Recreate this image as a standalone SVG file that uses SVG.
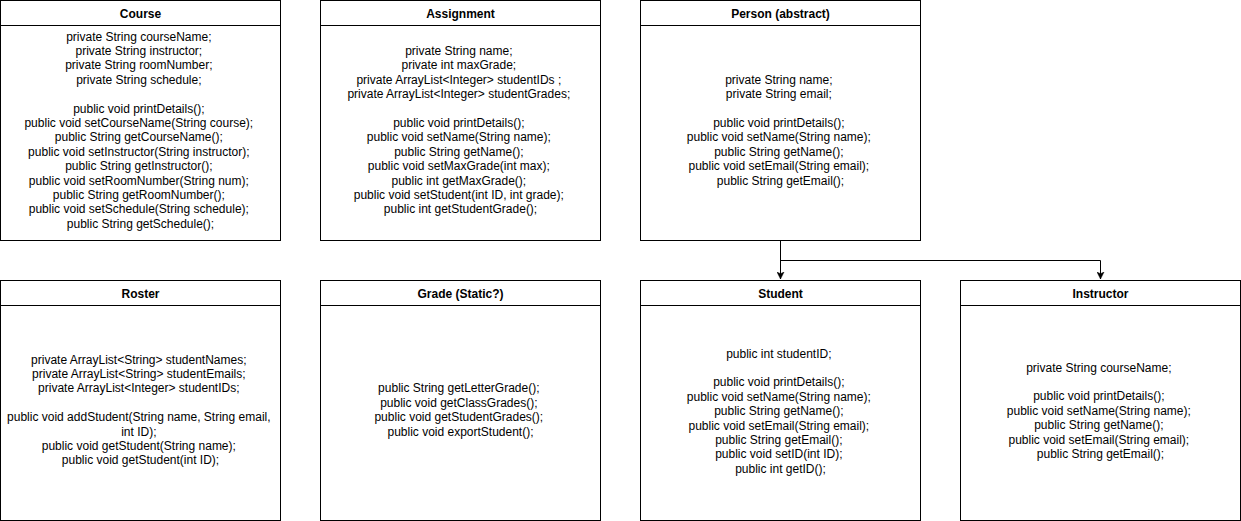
<svg xmlns="http://www.w3.org/2000/svg" width="1241" height="521" viewBox="0 0 1241 521">
<defs>
<style>
.box{fill:#fff;stroke:#000;stroke-width:1}
.sep{stroke:#000;stroke-width:1}
.t{font-family:"Liberation Sans",Arial,sans-serif;font-size:12px;fill:#000;text-anchor:middle}
.h{font-weight:bold}
.edge{fill:none;stroke:#000;stroke-width:1}
</style>
<marker id="arr" markerWidth="8" markerHeight="8" refX="7" refY="4" orient="auto" markerUnits="userSpaceOnUse">
<path d="M0,0.5 L7,4 L0,7.5 L1.75,4 Z" fill="#000" stroke="#000" stroke-width="0.5"/>
</marker>
</defs>
<rect width="1241" height="521" fill="#fff"/>

<g id="connectors">
<path class="edge" d="M780.5 240.5 V279" marker-end="url(#arr)"/>
<path class="edge" d="M780.5 240.5 V260.5 H1100.5 V279" marker-end="url(#arr)"/>
</g>

<g id="course">
<rect class="box" x="0.5" y="0.5" width="280" height="240"/>
<line class="sep" x1="0.5" y1="25.5" x2="280.5" y2="25.5"/>
<text class="t h" x="140.5" y="17.5">Course</text>
<text class="t">
<tspan x="140.5" y="40.5">private String courseName;</tspan>
<tspan x="140.5" y="54.9">private String instructor;</tspan>
<tspan x="140.5" y="69.3">private String roomNumber;</tspan>
<tspan x="140.5" y="83.7">private String schedule;</tspan>
<tspan x="140.5" y="112.5">public void printDetails();</tspan>
<tspan x="140.5" y="126.9">public void setCourseName(String course);</tspan>
<tspan x="140.5" y="141.3">public String getCourseName();</tspan>
<tspan x="140.5" y="155.7">public void setInstructor(String instructor);</tspan>
<tspan x="140.5" y="170.1">public String getInstructor();</tspan>
<tspan x="140.5" y="184.5">public void setRoomNumber(String num);</tspan>
<tspan x="140.5" y="198.9">public String getRoomNumber();</tspan>
<tspan x="140.5" y="213.3">public void setSchedule(String schedule);</tspan>
<tspan x="140.5" y="227.7">public String getSchedule();</tspan>
</text>
</g>

<g id="assignment">
<rect class="box" x="320.5" y="0.5" width="280" height="240"/>
<line class="sep" x1="320.5" y1="25.5" x2="600.5" y2="25.5"/>
<text class="t h" x="460.5" y="17.5">Assignment</text>
<text class="t">
<tspan x="460.5" y="54.9">private String name;</tspan>
<tspan x="460.5" y="69.3">private int maxGrade;</tspan>
<tspan x="460.5" y="83.7">private ArrayList&lt;Integer&gt; studentIDs ;</tspan>
<tspan x="460.5" y="98.1">private ArrayList&lt;Integer&gt; studentGrades;</tspan>
<tspan x="460.5" y="126.9">public void printDetails();</tspan>
<tspan x="460.5" y="141.3">public void setName(String name);</tspan>
<tspan x="460.5" y="155.7">public String getName();</tspan>
<tspan x="460.5" y="170.1">public void setMaxGrade(int max);</tspan>
<tspan x="460.5" y="184.5">public int getMaxGrade();</tspan>
<tspan x="460.5" y="198.9">public void setStudent(int ID, int grade);</tspan>
<tspan x="460.5" y="213.3">public int getStudentGrade();</tspan>
</text>
</g>

<g id="person">
<rect class="box" x="640.5" y="0.5" width="280" height="240"/>
<line class="sep" x1="640.5" y1="25.5" x2="920.5" y2="25.5"/>
<text class="t h" x="780.5" y="17.5">Person (abstract)</text>
<text class="t">
<tspan x="780.5" y="83.7">private String name;</tspan>
<tspan x="780.5" y="98.1">private String email;</tspan>
<tspan x="780.5" y="126.9">public void printDetails();</tspan>
<tspan x="780.5" y="141.3">public void setName(String name);</tspan>
<tspan x="780.5" y="155.7">public String getName();</tspan>
<tspan x="780.5" y="170.1">public void setEmail(String email);</tspan>
<tspan x="780.5" y="184.5">public String getEmail();</tspan>
</text>
</g>

<g id="roster">
<rect class="box" x="0.5" y="280.5" width="280" height="240"/>
<line class="sep" x1="0.5" y1="305.5" x2="280.5" y2="305.5"/>
<text class="t h" x="140.5" y="297.5">Roster</text>
<text class="t">
<tspan x="140.5" y="363.5">private ArrayList&lt;String&gt; studentNames;</tspan>
<tspan x="140.5" y="377.9">private ArrayList&lt;String&gt; studentEmails;</tspan>
<tspan x="140.5" y="392.3">private ArrayList&lt;Integer&gt; studentIDs;</tspan>
<tspan x="140.5" y="421.1">public void addStudent(String name, String email,</tspan>
<tspan x="140.5" y="435.5">int ID);</tspan>
<tspan x="140.5" y="449.9">public void getStudent(String name);</tspan>
<tspan x="140.5" y="464.3">public void getStudent(int ID);</tspan>
</text>
</g>

<g id="grade">
<rect class="box" x="320.5" y="280.5" width="280" height="240"/>
<line class="sep" x1="320.5" y1="305.5" x2="600.5" y2="305.5"/>
<text class="t h" x="460.5" y="297.5">Grade (Static?)</text>
<text class="t">
<tspan x="460.5" y="392.3">public String getLetterGrade();</tspan>
<tspan x="460.5" y="406.7">public void getClassGrades();</tspan>
<tspan x="460.5" y="421.1">public void getStudentGrades();</tspan>
<tspan x="460.5" y="435.5">public void exportStudent();</tspan>
</text>
</g>

<g id="student">
<rect class="box" x="640.5" y="280.5" width="280" height="240"/>
<line class="sep" x1="640.5" y1="305.5" x2="920.5" y2="305.5"/>
<text class="t h" x="780.5" y="297.5">Student</text>
<text class="t">
<tspan x="780.5" y="357.5">public int studentID;</tspan>
<tspan x="780.5" y="386.3">public void printDetails();</tspan>
<tspan x="780.5" y="400.7">public void setName(String name);</tspan>
<tspan x="780.5" y="415.1">public String getName();</tspan>
<tspan x="780.5" y="429.5">public void setEmail(String email);</tspan>
<tspan x="780.5" y="443.9">public String getEmail();</tspan>
<tspan x="780.5" y="458.3">public void setID(int ID);</tspan>
<tspan x="780.5" y="472.7">public int getID();</tspan>
</text>
</g>

<g id="instructor">
<rect class="box" x="960.5" y="280.5" width="280" height="240"/>
<line class="sep" x1="960.5" y1="305.5" x2="1240.5" y2="305.5"/>
<text class="t h" x="1100.5" y="297.5">Instructor</text>
<text class="t">
<tspan x="1100.5" y="371.5">private String courseName;</tspan>
<tspan x="1100.5" y="400.3">public void printDetails();</tspan>
<tspan x="1100.5" y="414.7">public void setName(String name);</tspan>
<tspan x="1100.5" y="429.1">public String getName();</tspan>
<tspan x="1100.5" y="443.5">public void setEmail(String email);</tspan>
<tspan x="1100.5" y="457.9">public String getEmail();</tspan>
</text>
</g>
</svg>
